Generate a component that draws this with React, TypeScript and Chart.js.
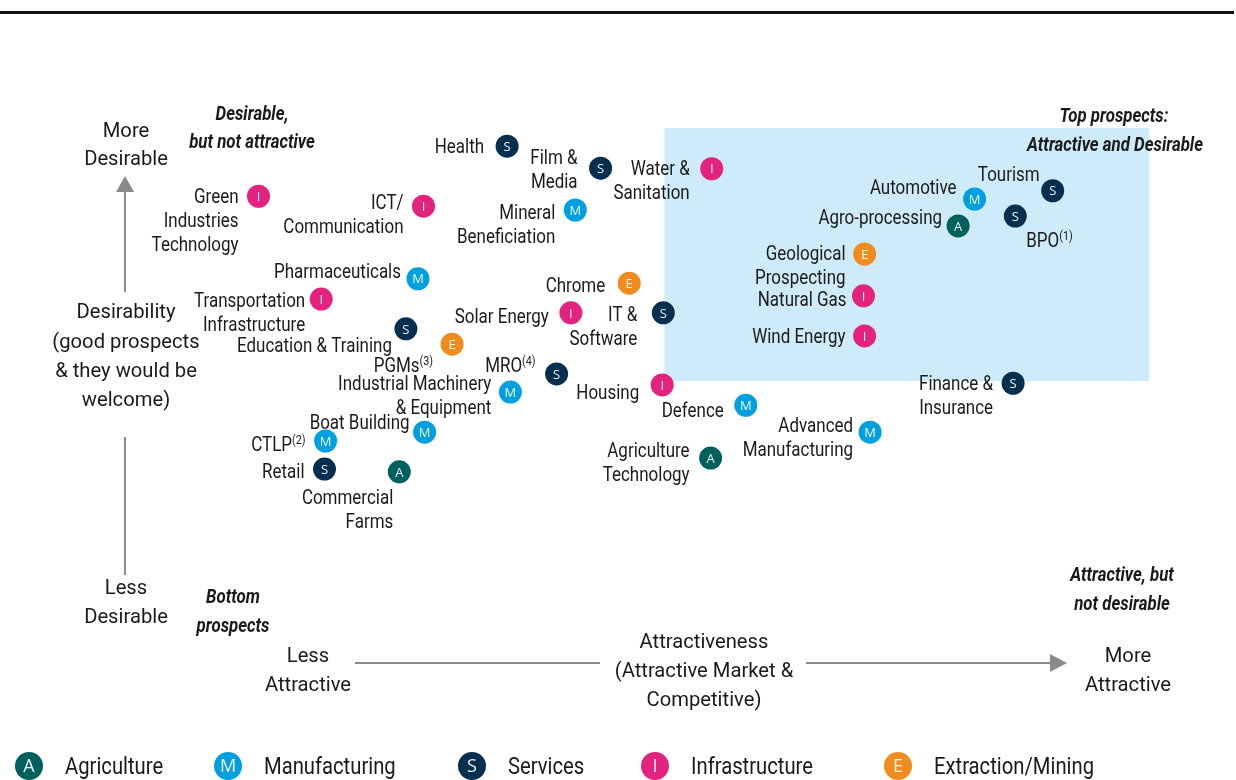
import React, { useEffect, useRef } from "react";
import { Chart, registerables } from "chart.js";
Chart.register(...registerables);

// ---------- DATA ----------
const sectorLabels: string[][] = [
  ["Health"],
  ["Film &", "Media"],
  ["Water &", "Sanitation"],
  ["Green", "Industries", "Technology"],
  ["ICT/", "Communication"],
  ["Mineral", "Beneficiation"],
  ["Pharmaceuticals"],
  ["Chrome"],
  ["Transportation", "Infrastructure"],
  ["Solar Energy"],
  ["IT &", "Software"],
  ["Education & Training"],
  ["PGMs"],
  ["MRO"],
  ["Industrial Machinery", "& Equipment"],
  ["Housing"],
  ["Defence"],
  ["Boat Building"],
  ["CTLP"],
  ["Advanced", "Manufacturing"],
  ["Retail"],
  ["Commercial", "Farms"],
  ["Agriculture", "Technology"],
  ["Finance &", "Insurance"],
  ["Automotive"],
  ["Tourism"],
  ["BPO"],
  ["Agro-processing"],
  ["Geological", "Prospecting"],
  ["Natural Gas"],
  ["Wind Energy"],
];
const sectorNotes: string[] = [
  "", "", "", "", "", "", "", "", "", "", "", "", "(3)", "(4)", "", "", "", "", "(2)", "", "", "", "", "", "", "", "(1)", "", "", "", "",
];
const sectorGroup: string[] = [
  "S", "S", "I", "I", "I", "M", "M", "E", "I", "I", "S", "S", "E", "S", "M", "I", "M", "M", "M", "M", "S", "A", "A", "S", "M", "S", "S", "A", "E", "I", "I",
];
const attractiveness: number[] = [
  3.61, 4.46, 5.47, 1.35, 2.85, 4.23, 2.8, 4.72, 1.92, 4.19, 5.03, 2.69, 3.11, 4.06, 3.64, 5.02, 5.78, 2.86, 1.96, 6.91, 1.95, 2.63, 5.46, 8.21, 7.86, 8.57, 8.23, 7.71, 6.86, 6.85, 6.86,
];
const desirability: number[] = [
  9.16, 8.76, 8.75, 8.25, 8.07, 8.0, 6.75, 6.67, 6.38, 6.13, 6.13, 5.84, 5.56, 5.02, 4.69, 4.82, 4.45, 3.96, 3.8, 3.96, 3.29, 3.24, 3.49, 4.85, 8.2, 8.35, 7.89, 7.71, 7.2, 6.44, 5.71,
];

const groupCodes: string[] = ["A", "M", "S", "I", "E"];
const groupNames: string[] = ["Agriculture", "Manufacturing", "Services", "Infrastructure", "Extraction/Mining"];

// "Top prospects" zone (attractiveness / desirability bounds)
const zoneAttractiveness: number[] = [5.04, 9.45];
const zoneDesirability: number[] = [4.89, 9.49];

// ---------- STYLE / LAYOUT ----------
const groupColors: Record<string, string> = {
  A: "#00605f",
  M: "#00a0e0",
  S: "#062f4f",
  I: "#e3237f",
  E: "#f08c1e",
};
// label placement: [dx, dy, align]
const labelPlacement: [number, number, string][] = [
  [-23, 0, "right"],
  [-23, -11, "right"],
  [-22, -1, "right"],
  [-20, 0, "right"],
  [-20, -4, "right"],
  [-20, 2, "right"],
  [-17, -8, "right"],
  [-24, 2, "right"],
  [-16, 1, "right"],
  [-22, 3, "right"],
  [-26, 1, "right"],
  [-14, 16, "right"],
  [-19, 21, "right"],
  [-21, -9, "right"],
  [-19, -9, "right"],
  [-23, 7, "right"],
  [-22, 5, "right"],
  [-15, -10, "right"],
  [-20, 3, "right"],
  [-17, -7, "right"],
  [-20, 2, "right"],
  [-6, 25, "right"],
  [-21, -8, "right"],
  [-20, 0, "right"],
  [-18, -12, "right"],
  [-13, -17, "right"],
  [11, 24, "left"],
  [-16, -9, "right"],
  [-19, -1, "right"],
  [-17, 3, "right"],
  [-19, 0, "right"],
];

const FAM = "Roboto, 'DejaVu Sans', sans-serif";
const LABEL_FONT = `20.5px ${FAM}`;
const NOTE_FONT = `12px ${FAM}`;
const AXIS_FONT = `20.5px ${FAM}`;
const QUAD_FONT = `italic bold 20.5px ${FAM}`;
const LEGEND_FONT = `23px ${FAM}`;
const TEXT = "#1a1a1a";
const ARROW = "#8a8a8a";
const Y_SHIFT = 2;

function fitScale(ctx: CanvasRenderingContext2D, font: string, sample: string, target: number) {
  ctx.save();
  ctx.font = font;
  const w = ctx.measureText(sample).width;
  ctx.restore();
  return w > 0 ? target / w : 1;
}

function drawText(
  ctx: CanvasRenderingContext2D,
  text: string,
  x: number,
  y: number,
  align: CanvasTextAlign,
  font: string,
  sx: number
) {
  ctx.save();
  ctx.translate(x, y + Y_SHIFT);
  ctx.scale(sx, 1);
  ctx.font = font;
  ctx.textAlign = align;
  ctx.textBaseline = "middle";
  ctx.fillText(text, 0, 0);
  ctx.restore();
}

const overlayPlugin = {
  id: "overlay",
  beforeDatasetsDraw(chart: any) {
    const { ctx, scales } = chart;
    const x0 = scales.x.getPixelForValue(zoneAttractiveness[0]);
    const x1 = scales.x.getPixelForValue(zoneAttractiveness[1]);
    const y0 = scales.y.getPixelForValue(zoneDesirability[1]);
    const y1 = scales.y.getPixelForValue(zoneDesirability[0]);
    ctx.save();
    ctx.fillStyle = "#cdebf8";
    ctx.fillRect(x0, y0, x1 - x0, y1 - y0);
    ctx.restore();
  },
  afterDatasetsDraw(chart: any) {
    const { ctx } = chart;
    const ls = fitScale(ctx, LABEL_FONT, "Pharmaceuticals", 127);
    ctx.save();
    chart.data.datasets.forEach((ds: any, di: number) => {
      const meta = chart.getDatasetMeta(di);
      meta.data.forEach((el: any, pi: number) => {
        const raw = ds.data[pi];
        ctx.fillStyle = "rgba(255,255,255,0.92)";
        ctx.font = "13px 'Open Sans', sans-serif";
        ctx.textAlign = "center";
        ctx.textBaseline = "middle";
        ctx.fillText(ds.code, el.x, el.y + 1);

        const idx = raw.idx;
        const [dx, dy, align] = labelPlacement[idx];
        const lines = sectorLabels[idx];
        const note = sectorNotes[idx];
        ctx.fillStyle = TEXT;
        lines.forEach((line, li) => {
          const ax = el.x + dx;
          const ay = el.y + dy + li * 24;
          if (note && li === 0) {
            ctx.font = NOTE_FONT;
            const nw = ctx.measureText(note).width * 0.9;
            ctx.font = LABEL_FONT;
            const mw = ctx.measureText(line).width * ls;
            if (align === "right") {
              drawText(ctx, line, ax - nw, ay, "right", LABEL_FONT, ls);
              drawText(ctx, note, ax, ay - 5, "right", NOTE_FONT, 0.9);
            } else {
              drawText(ctx, line, ax, ay, "left", LABEL_FONT, ls);
              drawText(ctx, note, ax + mw, ay - 5, "left", NOTE_FONT, 0.9);
            }
          } else {
            drawText(ctx, line, ax, ay, align as CanvasTextAlign, LABEL_FONT, ls);
          }
        });
      });
    });
    ctx.restore();
  },
  afterDraw(chart: any) {
    const { ctx } = chart;
    ctx.save();
    // top rule
    ctx.fillStyle = "#111";
    ctx.fillRect(0, 11, 1234, 3);

    // arrows
    ctx.strokeStyle = ARROW;
    ctx.fillStyle = ARROW;
    ctx.lineWidth = 2;
    ctx.beginPath();
    ctx.moveTo(125, 192);
    ctx.lineTo(125, 292);
    ctx.moveTo(125, 437);
    ctx.lineTo(125, 575);
    ctx.moveTo(355, 663);
    ctx.lineTo(600, 663);
    ctx.moveTo(806, 663);
    ctx.lineTo(1050, 663);
    ctx.stroke();
    ctx.beginPath();
    ctx.moveTo(125, 176);
    ctx.lineTo(134, 192);
    ctx.lineTo(116, 192);
    ctx.closePath();
    ctx.fill();
    ctx.beginPath();
    ctx.moveTo(1067, 663);
    ctx.lineTo(1050, 654);
    ctx.lineTo(1050, 672);
    ctx.closePath();
    ctx.fill();

    // axis texts
    ctx.fillStyle = TEXT;
    const as = fitScale(ctx, AXIS_FONT, "Desirability", 99);
    const plain: [string, number, number][] = [
      ["More", 126, 130],
      ["Desirable", 126, 158],
      ["Desirability", 126, 311],
      ["(good prospects", 126, 341],
      ["& they would be", 126, 370],
      ["welcome)", 126, 399],
      ["Less", 126, 587],
      ["Desirable", 126, 616],
      ["Less", 308, 655],
      ["Attractive", 308, 684],
      ["Attractiveness", 704, 641],
      ["(Attractive Market &", 704, 670],
      ["Competitive)", 704, 699],
      ["More", 1128, 655],
      ["Attractive", 1128, 684],
    ];
    plain.forEach(([t, x, y]) => drawText(ctx, t, x, y, "center", AXIS_FONT, as));

    const qs = fitScale(ctx, QUAD_FONT, "Attractive and Desirable", 176);
    const quad: [string, number, number][] = [
      ["Desirable,", 252, 113],
      ["but not attractive", 252, 141],
      ["Top prospects:", 1114, 115],
      ["Attractive and Desirable", 1115, 144],
      ["Bottom", 233, 596],
      ["prospects", 233, 625],
      ["Attractive, but", 1122, 574],
      ["not desirable", 1122, 603],
    ];
    quad.forEach(([t, x, y]) => drawText(ctx, t, x, y, "center", QUAD_FONT, qs));

    // legend
    const gs = fitScale(ctx, LEGEND_FONT, "Extraction/Mining", 160);
    const lx = [29, 228, 472, 655, 898];
    groupCodes.forEach((c, i) => {
      ctx.fillStyle = groupColors[c];
      ctx.beginPath();
      ctx.arc(lx[i], 766, 14, 0, Math.PI * 2);
      ctx.fill();
      ctx.fillStyle = "rgba(255,255,255,0.92)";
      ctx.font = "18px 'Open Sans', sans-serif";
      ctx.textAlign = "center";
      ctx.textBaseline = "middle";
      ctx.fillText(c, lx[i], 767);
      ctx.fillStyle = TEXT;
      drawText(ctx, groupNames[i], lx[i] + 36, 766, "left", LEGEND_FONT, gs);
    });
    ctx.restore();
  },
};

export default function App() {
  const ref = useRef<HTMLCanvasElement>(null);
  useEffect(() => {
    if (!ref.current) return;
    const datasets = groupCodes.map((code, gi) => ({
      label: groupNames[gi],
      code,
      data: sectorGroup
        .map((g, i) => ({ g, i }))
        .filter((o) => o.g === code)
        .map((o) => ({ x: attractiveness[o.i], y: desirability[o.i], idx: o.i })),
      backgroundColor: groupColors[code],
      pointRadius: 11.5,
      pointHoverRadius: 11.5,
      borderWidth: 0,
    }));
    const chart = new Chart(ref.current, {
      type: "scatter",
      data: { datasets } as any,
      options: {
        animation: false,
        responsive: false,
        devicePixelRatio: 1,
        layout: { padding: { left: 110, right: 26, top: 100, bottom: 130 } },
        scales: {
          x: { type: "linear", min: 0, max: 10, display: false },
          y: { type: "linear", min: 0, max: 10, display: false },
        },
        plugins: { legend: { display: false }, tooltip: { enabled: false } },
        events: [],
      },
      plugins: [overlayPlugin],
    });
    return () => chart.destroy();
  }, []);
  return (
    <div style={{ position: "absolute", left: 0, top: 0, width: 1236, height: 780, background: "#fff" }}>
      <canvas ref={ref} width={1236} height={780} style={{ display: "block" }} />
    </div>
  );
}
